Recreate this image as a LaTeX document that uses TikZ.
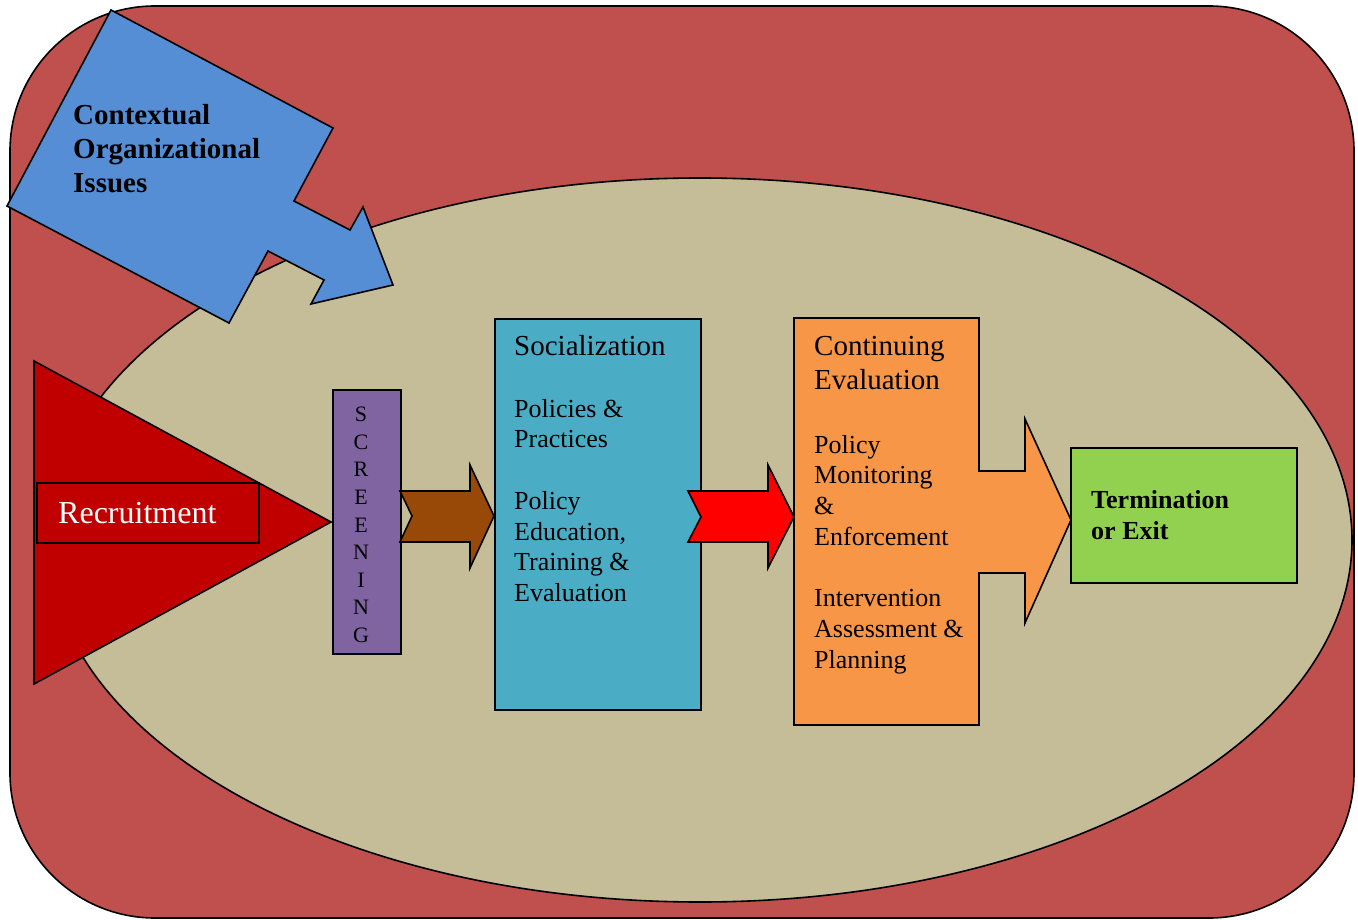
\documentclass[tikz,border=0pt]{standalone}
\usepackage{fontspec}
\setmainfont{Liberation Serif}

\definecolor{frameRed}{RGB}{192,80,77}
\definecolor{ovalTan}{RGB}{196,189,151}
\definecolor{issueBlue}{RGB}{85,142,213}
\definecolor{recrRed}{RGB}{192,0,0}
\definecolor{screenPurple}{RGB}{128,100,162}
\definecolor{socBlue}{RGB}{75,172,198}
\definecolor{arrowBrown}{RGB}{152,72,7}
\definecolor{evalOrange}{RGB}{247,150,70}
\definecolor{exitGreen}{RGB}{146,208,80}

\begin{document}
\begin{tikzpicture}[x=1pt,y=-1pt,
	shp/.style={draw=black,line width=1.6pt,line join=miter},
	boxtitle/.style={inner sep=0pt,anchor=base west,font=\fontsize{29}{34}\selectfont},
	boxtext/.style={inner sep=0pt,anchor=north west,align=left,font=\fontsize{26}{30.7}\selectfont}]
	
	\useasboundingbox (0,0) rectangle (1358,920);
	
	% Background frame + oval
	\draw[shp,fill=frameRed,rounded corners=145pt] (10,6) rectangle (1354,918);
	\draw[shp,fill=ovalTan] (700,540) ellipse [x radius=652pt,y radius=362pt];
	
	% Contextual issues arrow
	\draw[shp,fill=issueBlue] (111,10) -- (333,128) -- (294,201) -- (350,230) -- (363,207) -- (393,285) -- (311,304) -- (324,280) -- (268,251) -- (229,323) -- (7,206) -- cycle;
	\node[boxtext,font=\fontsize{29}{34}\selectfont\bfseries] (ctx) at (73,104) {Contextual\\Organizational\\Issues};
	
	% Recruitment
	\draw[shp,fill=recrRed] (34,361) -- (331,522) -- (34,684) -- cycle;
	\draw[shp,fill=recrRed] (37,483) rectangle (259,543) node[coordinate](recr){};
	\node[boxtitle,font=\fontsize{32}{36}\selectfont,text=white] (recrText) at (58,523) {Recruitment};
	
	% Screening
	\node[shp,fill=screenPurple,minimum width=68pt,minimum height=264pt,anchor=north west] (scr) at (332,389) {};
	\node[align=center,inner sep=0pt,font=\fontsize{22}{27.6}\selectfont] (scrText) at (361,525) {S\\C\\R\\E\\E\\N\\I\\N\\G};
	
	% Socialization + arrow
	\draw[shp,fill=arrowBrown] (400,491) -- (470,491) -- (470,465) -- (494,516) -- (470,568) -- (470,542) -- (400,542) -- (412,516) -- cycle;
	\node[shp,fill=socBlue,minimum width=206pt,minimum height=391pt,anchor=north west] (soc) at (494,318) {};
	\node[boxtitle] (socTitle) at (514,355) {Socialization};
	\node[boxtext] (socText) at (514,399) {Policies \&\\Practices\\[30.7pt]Policy\\Education,\\Training \&\\Evaluation};
	
	% Continuing evaluation + arrow
	\draw[shp,fill=red] (688,491) -- (768,491) -- (768,465) -- (794,517) -- (768,568) -- (768,542) -- (688,542) -- (701,517) -- cycle;
	\draw[shp,fill=evalOrange] (794,318) -- (979,318) -- (979,471) -- (1025,471) -- (1025,419) -- (1071,520) -- (1025,623) -- (1025,573) -- (979,573) -- (979,725) -- (794,725) -- cycle;
	\node[boxtitle,anchor=north west,align=left] (evalTitle) at (814,336) {Continuing\\Evaluation};
	\node[boxtext] (evalText) at (814,435) {Policy\\Monitoring\\\&\\Enforcement\\[30.7pt]Intervention\\Assessment \&\\Planning};
	
	% Termination
	\node[shp,fill=exitGreen,minimum width=226pt,minimum height=135pt,anchor=north west] (exit) at (1070,447) {};
	\node[boxtext,font=\fontsize{26}{31}\selectfont\bfseries] (exitText) at (1091,490) {Termination\\or Exit};
	
\end{tikzpicture}
\end{document}
